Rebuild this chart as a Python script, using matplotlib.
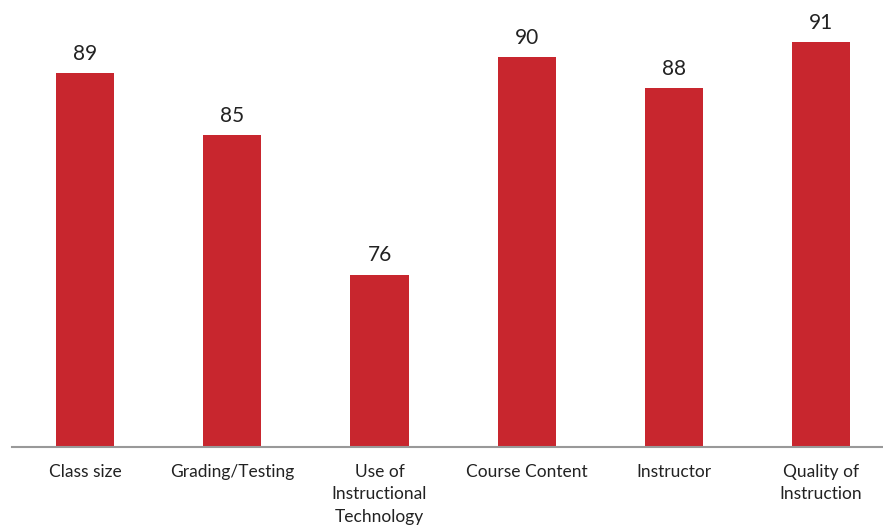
import matplotlib
matplotlib.use("Agg")
import matplotlib.pyplot as plt

categories = ["Class size", "Grading/Testing", "Use of\nInstructional\nTechnology",
              "Course Content", "Instructor", "Quality of\nInstruction"]
scores = [89, 85, 76, 90, 88, 91]

plt.rcParams['font.family'] = ['Lato', 'DejaVu Sans']

fig = plt.figure(figsize=(8.83, 5.29), dpi=100)
ax = fig.add_axes([11.5 / 883, 82 / 529, 1 - 11.5 / 883, 447 / 529])

x = range(len(categories))
bars = ax.bar(x, scores, width=0.395, color="#C8262E", zorder=2)

for b, v in zip(bars, scores):
    ax.text(b.get_x() + b.get_width() / 2, v + 0.6, str(v),
            ha="center", va="bottom", fontsize=15, color="#222222")

ax.set_xlim(-0.5, 5.42)
ax.set_ylim(64.9, 93.7)
ax.set_xticks(list(x))
ax.set_xticklabels(categories, fontsize=12.5, color="#222222", linespacing=1.5)
ax.tick_params(axis="x", length=0, pad=12)
ax.set_yticks([])

for s in ["top", "right", "left"]:
    ax.spines[s].set_visible(False)
ax.spines["bottom"].set_color("#999999")
ax.spines["bottom"].set_linewidth(1.5)

fig.savefig("out.png", dpi=100)
